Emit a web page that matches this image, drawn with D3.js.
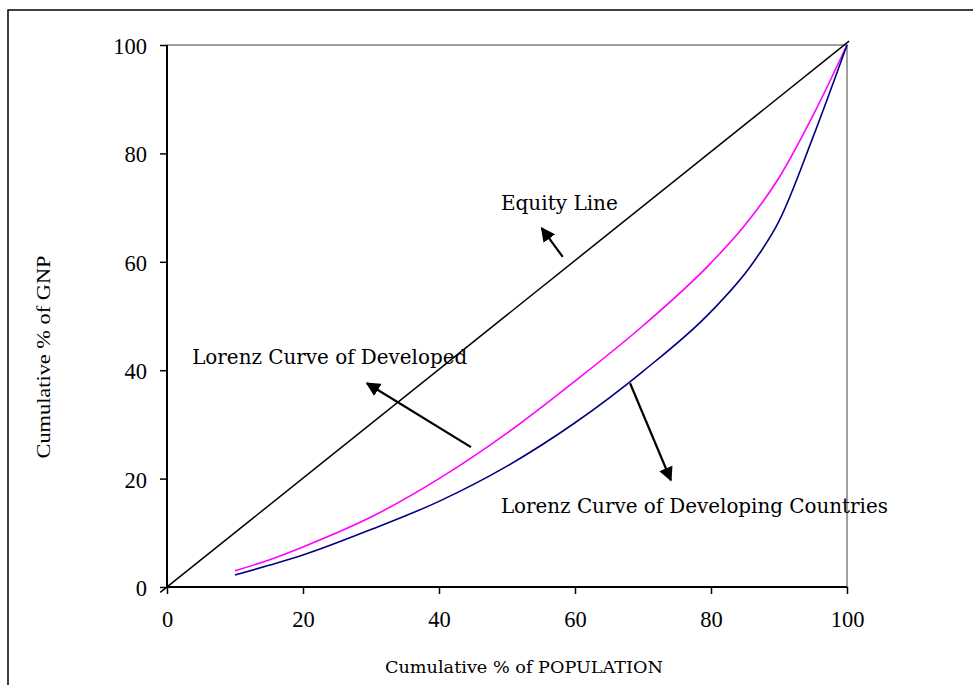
<!DOCTYPE html>
<html><head><meta charset="utf-8">
<script src="https://cdn.jsdelivr.net/npm/d3@7"></script>
<style>body{margin:0;background:#fff}svg{display:block}</style>
</head><body><svg id="c" width="973" height="685"></svg>
<script>
const popX = [10, 15, 20, 30, 40, 50, 60, 70, 80, 85, 90, 95, 100];
const developed = [3.0, 5.0, 7.4, 12.9, 20.0, 28.4, 38.0, 48.2, 59.8, 66.8, 75.5, 87, 100];
const popXDev = [10, 15, 20, 30, 40, 50, 60, 70, 80, 86, 90, 95, 100];
const developing = [2.2, 4.0, 5.9, 10.6, 15.8, 22.3, 30.3, 39.8, 50.8, 59.5, 67.5, 83, 100];
const equityX = [-1, 100.3];
const equityY = [-1, 100.7];
const xTicks = [0, 20, 40, 60, 80, 100];
const yTicks = [0, 20, 40, 60, 80, 100];
const arrows = [
  {from:[58.2, 60.9], to:[55.1, 66.2]},
  {from:[44.7, 25.8], to:[29.4, 37.6]},
  {from:[68.1, 37.6], to:[74.1, 19.7]}
];
const labels = [
  {text:"Equity Line", at:[49.1, 69.6], w:117},
  {text:"Lorenz Curve of Developed", at:[3.7, 41.1], w:275},
  {text:"Lorenz Curve of Developing Countries", at:[49.1, 13.7], w:387}
];

const svg = d3.select("#c");
const x = d3.scaleLinear().domain([0,100]).range([167, 847]);
const y = d3.scaleLinear().domain([0,100]).range([587, 45]);

// outer frame
svg.append("path").attr("d","M8,690 L8,10 L980,10").attr("fill","none").attr("stroke","#000").attr("stroke-width",1.5);

// gray top/right borders
svg.append("path").attr("d",`M${x(0)},${y(100)} L${x(100)},${y(100)} L${x(100)},${y(0)}`)
  .attr("fill","none").attr("stroke","#808080").attr("stroke-width",1.5);

const serif = "'Liberation Serif','Times New Roman',serif";

// axes
const gx = svg.append("g").attr("transform",`translate(0,${y(0)})`)
  .call(d3.axisBottom(x).tickValues(xTicks).tickSize(7).tickPadding(17).tickFormat(d3.format("d")));
const gy = svg.append("g").attr("transform",`translate(${x(0)},0)`)
  .call(d3.axisLeft(y).tickValues(yTicks).tickSize(7).tickPadding(13).tickFormat(d3.format("d")));
[gx, gy].forEach(g => {
  g.select(".domain").attr("stroke","#000").attr("stroke-width",2);
  g.selectAll(".tick line").attr("stroke","#000").attr("stroke-width",1.5);
  g.selectAll("text").attr("font-family",serif).attr("font-size",22.5).attr("fill","#000");
});
gy.selectAll(".tick text").attr("dy","0.38em");
gx.select(".domain").attr("d",`M${x(0)},0H${x(100)}`);
gy.select(".domain").attr("d",`M0,${y(0)}V${y(100)}`);

// equity line
svg.append("line").attr("x1",x(equityX[0])).attr("y1",y(equityY[0]))
  .attr("x2",x(equityX[1])).attr("y2",y(equityY[1]))
  .attr("stroke","#000").attr("stroke-width",1.5);

const line = d3.line().curve(d3.curveMonotoneX);
svg.append("path").attr("d", line(popX.map((v,i)=>[x(v), y(developed[i])])))
  .attr("fill","none").attr("stroke","#FF00FF").attr("stroke-width",1.6);
svg.append("path").attr("d", line(popXDev.map((v,i)=>[x(v), y(developing[i])])))
  .attr("fill","none").attr("stroke","#000080").attr("stroke-width",1.6);

// arrows
svg.append("defs").append("marker").attr("id","ah").attr("viewBox","0 0 10 10")
  .attr("refX",9).attr("refY",5).attr("markerWidth",6.5).attr("markerHeight",6.5)
  .attr("markerUnits","strokeWidth").attr("orient","auto")
  .append("path").attr("d","M0,0 L10,5 L0,10 Z").attr("fill","#000");
arrows.forEach(a => {
  svg.append("line").attr("x1",x(a.from[0])).attr("y1",y(a.from[1]))
    .attr("x2",x(a.to[0])).attr("y2",y(a.to[1]))
    .attr("stroke","#000").attr("stroke-width",2.2).attr("marker-end","url(#ah)");
});

// labels
labels.forEach(l => {
  svg.append("text").attr("x",x(l.at[0])).attr("y",y(l.at[1]))
    .attr("font-family","'DejaVu Serif','Liberation Serif',serif").attr("font-size",20)
    .attr("textLength",l.w).attr("lengthAdjust","spacingAndGlyphs")
    .attr("fill","#000").text(l.text);
});

// axis titles
svg.append("text").attr("x",524).attr("y",673).attr("text-anchor","middle")
  .attr("font-family","'DejaVu Serif','Liberation Serif',serif").attr("font-size",17).attr("fill","#000")
  .attr("textLength",278).attr("lengthAdjust","spacingAndGlyphs")
  .text("Cumulative % of POPULATION");
svg.append("text").attr("transform","translate(50,357) rotate(-90)").attr("text-anchor","middle")
  .attr("font-family",serif).attr("font-size",18).attr("fill","#000")
  .attr("textLength",203).attr("lengthAdjust","spacingAndGlyphs")
  .text("Cumulative % of  GNP");
</script></body></html>
